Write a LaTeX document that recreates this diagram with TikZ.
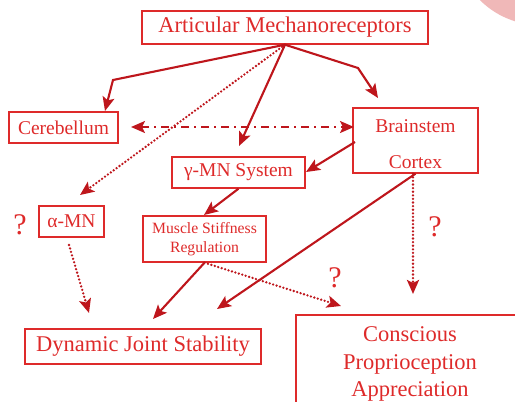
\documentclass[tikz,border=0pt]{standalone}
\usepackage{fontspec}
\setmainfont{Liberation Serif}
\usetikzlibrary{arrows.meta,calc}
\definecolor{boxred}{RGB}{222,42,42}
\definecolor{arrred}{RGB}{190,22,28}
\definecolor{pinkc}{RGB}{240,184,184}
\begin{document}
\begin{tikzpicture}[x=1pt,y=-1pt,
  box/.style={draw=boxred,line width=1.4pt,text=boxred,inner sep=0pt,align=center},
  big/.style={font=\fontsize{22.5}{27.5}\selectfont},
  mid/.style={font=\fontsize{19.5}{23}\selectfont},
  small/.style={font=\fontsize{15.7}{19}\selectfont},
  qm/.style={text=boxred,font=\fontsize{30}{32}\selectfont,inner sep=0pt},
  arr/.style={draw=arrred,line width=2.1pt,line join=miter,-{Stealth[length=14pt,width=12pt,inset=3pt]}},
  dotarr/.style={arr,line width=2.6pt,line cap=round,dash pattern=on 0pt off 3.6pt},
  dasharr/.style={draw=arrred,line width=2.1pt,dash pattern=on 8pt off 5pt on 2pt off 5pt,{Stealth[length=14pt,width=12pt,inset=3pt]}-{Stealth[length=14pt,width=12pt,inset=3pt]}}]
\useasboundingbox (0,0) rectangle (515,402);
\fill[pinkc] (540,-60) circle (85);

\node[box,big,minimum width=286,minimum height=33] (art) at (285,27.5) {Articular Mechanoreceptors};
\node[box,mid,minimum width=109,minimum height=31] (cer) at (63.5,127.5) {Cerebellum};
\node[box,font=\fontsize{19.5}{36}\selectfont,minimum width=125,minimum height=65] (brain) at (415.5,140.5) {\rule{0pt}{20pt}Brainstem\\Cortex};
\node[box,mid,minimum width=133,minimum height=31] (gmn) at (238.5,172.5) {γ-MN System};
\node[box,mid,minimum width=65,minimum height=31] (amn) at (71.5,221.5) {α-MN};
\node[box,small,minimum width=123,minimum height=46] (msr) at (204.5,239) {Muscle Stiffness\\Regulation};
\node[box,big,minimum width=236,minimum height=35] (djs) at (143,346.5) {Dynamic Joint Stability};
\node[box,minimum width=228,minimum height=105] (csc) at (410,367.5) {};
\node[text=boxred,big,align=center,inner sep=0pt] (csct) at (410,364) {Conscious\\Proprioception\\Appreciation};

\node[qm] (q1) at (20,225) {?};
\node[qm] (q2) at (435,227) {?};
\node[qm] (q3) at (335,278) {?};

\coordinate (a1) at (113,80);
\coordinate (t1) at (105,111);
\coordinate (a2) at (358,68);
\coordinate (t2) at (378,98);
\coordinate (t3) at (239,146);
\coordinate (t4) at (80,195);
\coordinate (d1) at (131,127);
\coordinate (d2) at (354,127);
\coordinate (s6) at (355,142);
\coordinate (t6) at (306,172);
\coordinate (t7) at (204,215);
\coordinate (s8) at (69,245);
\coordinate (t8) at (89,313);
\coordinate (t9) at (153,319);
\coordinate (t10) at (217,309);
\coordinate (t11) at (341,306);
\coordinate (t12) at (413,294);

\draw[arr] (art.south) -- (a1) -- (t1);
\draw[arr] (art.south) -- (a2) -- (t2);
\draw[arr] (art.south) -- (t3);
\draw[dotarr] (art.south) -- (t4);
\draw[dasharr] (d1) -- (d2);
\draw[arr] (s6) -- (t6);
\draw[arr] (gmn.south) -- (t7);
\draw[dotarr] (s8) -- (t8);
\draw[arr] (msr.south) -- (t9);
\draw[arr] (brain.south) -- (t10);
\draw[dotarr] (msr.south) -- (t11);
\draw[dotarr] (brain.south -| t12) -- (t12);
\end{tikzpicture}
\end{document}
